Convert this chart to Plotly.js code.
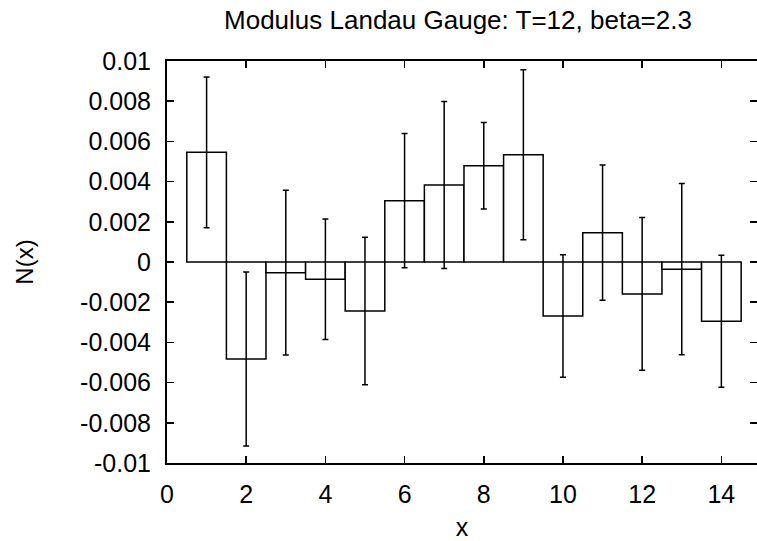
<!DOCTYPE html>
<html>
<head>
<meta charset="utf-8">
<script src="https://cdn.plot.ly/plotly-3.0.1.min.js"></script>
<style>html,body{margin:0;padding:0;background:#fff;}#chart{width:757px;height:541px;}</style>
</head>
<body>
<div id="chart"></div>
<script>
const xValues = [1, 2, 3, 4, 5, 6, 7, 8, 9, 10, 11, 12, 13, 14];
const nValues = [0.00546, -0.00483, -0.00053, -0.00086, -0.00244, 0.00305, 0.00383, 0.00479, 0.00534, -0.00269, 0.00146, -0.00159, -0.00036, -0.00295];
const nErrors = [0.00375, 0.00433, 0.0041, 0.003, 0.00367, 0.00334, 0.00415, 0.00215, 0.00423, 0.00305, 0.00336, 0.0038, 0.00426, 0.00328];
const yTickVals = [0.01, 0.008, 0.006, 0.004, 0.002, 0, -0.002, -0.004, -0.006, -0.008, -0.01];
const yTickText = ["0.01", "0.008", "0.006", "0.004", "0.002", "0", "-0.002", "-0.004", "-0.006", "-0.008", "-0.01"];
const xTickVals = [0, 2, 4, 6, 8, 10, 12, 14];
const xTickText = ["0", "2", "4", "6", "8", "10", "12", "14"];

const FONT = "Liberation Sans, Arial, Helvetica, sans-serif";

const trace = {
  type: "bar",
  x: xValues,
  y: nValues,
  width: 1,
  marker: {color: "#ffffff", line: {color: "#000000", width: 1.5}},
  error_y: {type: "data", array: nErrors, visible: true, color: "#000000", thickness: 1.5, width: 3},
  hoverinfo: "x+y"
};

const layout = {
  width: 757,
  height: 541,
  margin: {l: 167, r: 0, t: 61, b: 78, pad: 0},
  paper_bgcolor: "#ffffff",
  plot_bgcolor: "#ffffff",
  showlegend: false,
  font: {family: FONT, color: "#000000", size: 24},
  title: {text: "Modulus Landau Gauge: T=12, beta=2.3", font: {family: FONT, size: 26, color: "#000"}, x: 0.605, xanchor: "center", y: 0.964, yanchor: "middle"},
  xaxis: {
    range: [0, 14.9],
    tickvals: xTickVals,
    ticktext: xTickText,
    ticks: "inside",
    ticklen: 7,
    tickwidth: 1.5,
    tickcolor: "#000",
    showline: true,
    linecolor: "#000",
    linewidth: 2,
    mirror: "ticks",
    showgrid: false,
    zeroline: false,
    ticklabelstandoff: 8,
    tickfont: {family: FONT, size: 25, color: "#000"},
    title: {text: "x", font: {family: FONT, size: 25, color: "#000"}, standoff: 24}
  },
  yaxis: {
    range: [-0.01, 0.01],
    tickvals: yTickVals,
    ticktext: yTickText,
    ticks: "inside",
    ticklen: 7,
    tickwidth: 1.5,
    tickcolor: "#000",
    showline: true,
    linecolor: "#000",
    linewidth: 2,
    mirror: "ticks",
    showgrid: false,
    zeroline: false,
    ticklabelstandoff: 9,
    tickfont: {family: FONT, size: 25, color: "#000"},
    title: {text: "N(x)", font: {family: FONT, size: 24, color: "#000"}, standoff: 40}
  }
};

Plotly.newPlot("chart", [trace], layout, {displayModeBar: false, staticPlot: true});
</script>
</body>
</html>
